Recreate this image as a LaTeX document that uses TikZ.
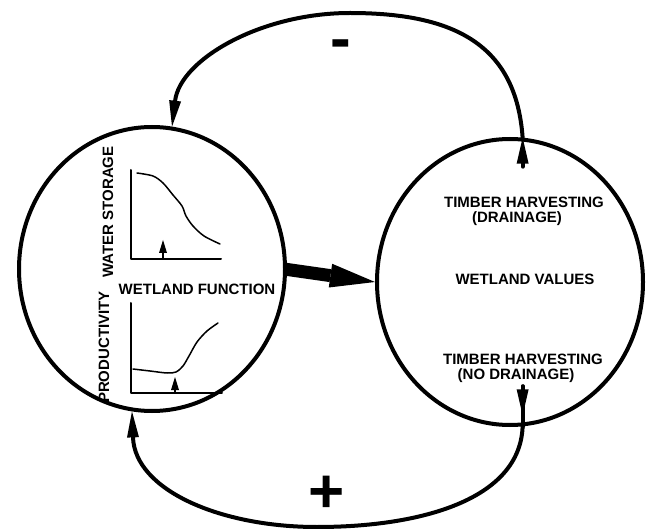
\documentclass[tikz,border=0pt]{standalone}
\usepackage{fontspec}
\setmainfont{Liberation Sans}
\usepackage{pgf,tikz}
\usetikzlibrary{arrows.meta}
\usetikzlibrary{shapes.geometric}
\usetikzlibrary{positioning}

\begin{document}
\begin{tikzpicture}[line cap=round,line join=round,x=1pt,y=-1pt,
  rim/.style={draw=black,line width=4pt,ellipse,inner sep=0pt},
  lab/.style={font=\fontsize{15}{17}\selectfont\bfseries,inner sep=0pt},
  sign/.style={font=\fontsize{62}{62}\selectfont\bfseries,inner sep=0pt},
  loop/.style={line width=4pt},
  tipb/.style={-{Triangle[length=26pt,width=12pt,line width=0pt]}},
  tips/.style={-{Triangle[length=13pt,width=8pt,line width=0pt]}}]
\useasboundingbox (0,0) rectangle (648,529);
\fill[white] (0,0) rectangle (648,529);
% the two circles
\node[rim,minimum width=266pt,minimum height=284pt] (func) at (152,269) {};
\node[rim,minimum width=266pt,minimum height=286pt] (vals) at (510,282) {};
% water storage graph
\draw[line width=2pt] (131,170) -- (131,259) -- (221,259);
\draw[line width=1.5pt] plot[smooth] coordinates {(137,173) (153,176) (163,183) (173,195) (182,206) (186,216) (193,226) (204,236) (220,244)};
\draw[line width=1.5pt,tips] (163,259) -- (163,240);
% productivity graph
\draw[line width=2pt] (131,303) -- (131,393) -- (222,393);
\draw[line width=1.5pt] plot[smooth] coordinates {(133,369) (150,371) (167,373) (176,372) (183,366) (189,356) (197,342) (207,331) (218,323)};
\draw[line width=1.5pt,tips] (175,393) -- (175,377);
% texts
\node[lab,rotate=90] (ws) at (108,212) {WATER STORAGE};
\node[lab,rotate=90] (pr) at (104,347) {PRODUCTIVITY};
\node[lab] (wf) at (197,289) {WETLAND FUNCTION};
\node[lab] (th1) at (524,202) {TIMBER HARVESTING};
\node[lab] (dr) at (517,219) {(DRAINAGE)};
\node[lab] (wv) at (525,279) {WETLAND VALUES};
\node[lab] (th2) at (523,359) {TIMBER HARVESTING};
\node[lab] (nd) at (516,376) {(NO DRAINAGE)};
% big arrow
\draw[line width=13pt,line cap=butt,-{Triangle[length=45pt,width=24pt,line width=0pt]}] ([xshift=-3pt]func.east) -- (vals.west);
% negative loop
\coordinate (top) at (350,13);
\draw[loop,tipb] ([yshift=-29pt]vals.85) -- (vals.85);
\draw[loop,tipb] (vals.85) .. controls (516,45) and (455,13) .. (top) .. controls (260,13) and (180,60) .. (func.82);
\node[sign] (minus) at (341,50) {-};
% positive loop
\coordinate (bot) at (317,527);
\draw[loop] ([yshift=40pt]vals.275) -- (vals.275);
\draw[loop,tipb] ([yshift=40pt]vals.275) -- ([yshift=11pt]vals.275);
\draw[loop,tipb] (vals.275) .. controls (520,500) and (420,527) .. (bot) .. controls (220,527) and (135,490) .. (func.262);
\node[sign] (plus) at (327,494) {+};
\end{tikzpicture}
\end{document}
